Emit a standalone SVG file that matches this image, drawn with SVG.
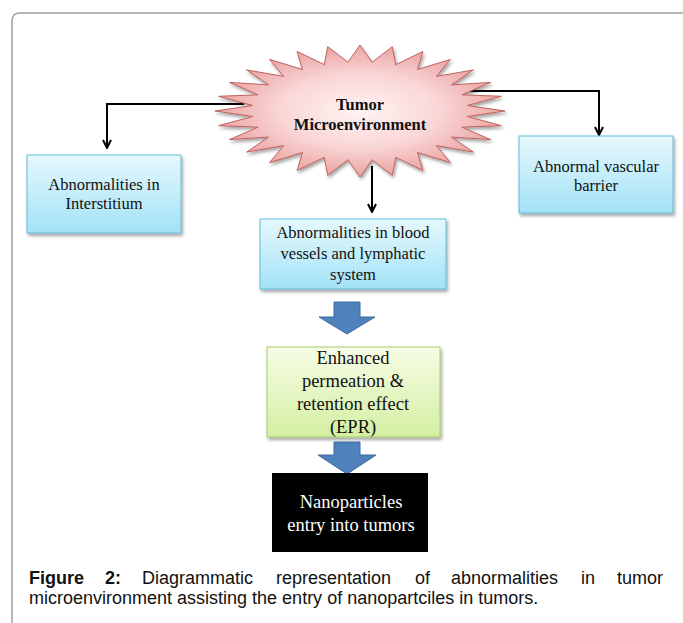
<svg xmlns="http://www.w3.org/2000/svg" width="683" height="623" viewBox="0 0 683 623">
<style>
.box{stroke-width:1}
.blue{fill:url(#gBlue);stroke:#62bcd9}
.green{fill:url(#gGreen);stroke:#a5cc6e}
.t{font-family:"Liberation Serif","Times New Roman",serif;font-size:16.5px;fill:#111;text-anchor:middle}
.tb{font-family:"Liberation Serif","Times New Roman",serif;font-size:16.5px;font-weight:bold;fill:#111;text-anchor:middle}
.tl{font-family:"Liberation Serif","Times New Roman",serif;font-size:18.5px;fill:#111;text-anchor:middle}
.tw{font-family:"Liberation Serif","Times New Roman",serif;font-size:18.5px;fill:#fff;text-anchor:middle}
.cap{font-family:"Liberation Sans",Arial,sans-serif;font-size:18px;fill:#111}
.conn{fill:none;stroke:#000;stroke-width:2}
.barrow{fill:#4f81bd;stroke:#3d6a9e;stroke-width:1}
</style>
<defs>
<linearGradient id="gBlue" x1="0" y1="0" x2="0" y2="1">
<stop offset="0" stop-color="#e6f8fd"/>
<stop offset="1" stop-color="#a2e2f6"/>
</linearGradient>
<linearGradient id="gGreen" x1="0" y1="0" x2="0" y2="1">
<stop offset="0" stop-color="#f7fce6"/>
<stop offset="1" stop-color="#d3efa2"/>
</linearGradient>
<radialGradient id="gStar" cx="0.5" cy="0.5" r="0.5">
<stop offset="0" stop-color="#fff3f3"/>
<stop offset="0.55" stop-color="#fad6d6"/>
<stop offset="1" stop-color="#eba3a3"/>
</radialGradient>
<filter id="sh" x="-10%" y="-10%" width="130%" height="140%">
<feDropShadow dx="1.5" dy="2.5" stdDeviation="1.5" flood-color="#000" flood-opacity="0.35"/>
</filter>
<marker id="arr" viewBox="0 0 10 10" refX="9" refY="5" markerWidth="10" markerHeight="10" orient="auto" markerUnits="userSpaceOnUse">
<path d="M1,1 L9,5 L1,9" fill="none" stroke="#000" stroke-width="2"/>
</marker>
</defs>
<rect width="683" height="623" fill="#fff"/>
<path d="M12,623 V21 Q12,13 20,13 H683" fill="none" stroke="#a0a0a0" stroke-width="1.5"/>

<g id="connectors">
<path class="conn" d="M244,104 H107 V148" marker-end="url(#arr)"/>
<path class="conn" d="M470,91 H599 V135" marker-end="url(#arr)"/>
<path class="conn" d="M372,166 V212" marker-end="url(#arr)"/>
<polygon class="barrow" points="334,302 360,302 360,317 375,317 347,334 319,317 334,317"/>
<polygon class="barrow" points="334,442 360,442 360,455 376,455 347,474 318,455 334,455"/>
</g>

<g id="tumor">
<polygon filter="url(#sh)" fill="url(#gStar)" stroke="#c0605c" stroke-width="1" points="505,111 467.3,105.5 501.4,96.3 461.9,94.8 490.6,82.4 451.4,84.9 473.4,69.9 436.4,76.4 450.4,59.4 417.5,69.5 422.9,51.5 395.7,64.7 392.3,46.7 372.1,62.3 360,45 347.9,62.3 327.7,46.7 324.3,64.7 297.1,51.5 302.5,69.5 269.6,59.4 283.6,76.4 246.6,69.9 268.6,84.9 229.4,82.4 258.1,94.8 218.6,96.3 252.7,105.5 215,111 252.7,116.5 218.6,125.7 258.1,127.2 229.4,139.6 268.6,137.1 246.6,152.1 283.6,145.6 269.6,162.6 302.5,152.5 297.1,170.5 324.3,157.3 327.7,175.3 347.9,159.7 360,177 372.1,159.7 392.3,175.3 395.7,157.3 422.9,170.5 417.5,152.5 450.4,162.6 436.4,145.6 473.4,152.1 451.4,137.1 490.6,139.6 461.9,127.2 501.4,125.7 467.3,116.5"/>
<text class="tb" x="360" y="110">Tumor</text>
<text class="tb" x="360" y="130">Microenvironment</text>
</g>

<g id="interstitium">
<rect class="box blue" filter="url(#sh)" x="27" y="155" width="154" height="78"/>
<text class="t" x="104" y="190">Abnormalities in</text>
<text class="t" x="104" y="209">Interstitium</text>
</g>

<g id="vascular">
<rect class="box blue" filter="url(#sh)" x="519" y="136" width="154" height="77"/>
<text class="t" x="596" y="172">Abnormal vascular</text>
<text class="t" x="596" y="191">barrier</text>
</g>

<g id="blood">
<rect class="box blue" filter="url(#sh)" x="260" y="219" width="186" height="70"/>
<text class="t" x="353" y="238">Abnormalities in blood</text>
<text class="t" x="353" y="259">vessels and lymphatic</text>
<text class="t" x="353" y="280">system</text>
</g>

<g id="epr">
<rect class="box green" filter="url(#sh)" x="267" y="347" width="173" height="90"/>
<text class="tl" x="353" y="364">Enhanced</text>
<text class="tl" x="353" y="387">permeation &amp;</text>
<text class="tl" x="353" y="410">retention effect</text>
<text class="tl" x="353" y="433">(EPR)</text>
</g>

<g id="nanoparticles">
<rect x="272" y="473" width="156" height="79" fill="#000"/>
<text class="tw" x="351" y="508">Nanoparticles</text>
<text class="tw" x="351" y="531">entry into tumors</text>
</g>

<g id="caption">
<text class="cap" x="29" y="584" font-weight="bold">Figure</text>
<text class="cap" x="105" y="584" font-weight="bold">2:</text>
<text class="cap" x="142" y="584">Diagrammatic</text>
<text class="cap" x="276" y="584">representation</text>
<text class="cap" x="415" y="584">of</text>
<text class="cap" x="451" y="584">abnormalities</text>
<text class="cap" x="581" y="584">in</text>
<text class="cap" x="617" y="584">tumor</text>
<text class="cap" x="29" y="604">microenvironment assisting the entry of nanopartciles in tumors.</text>
</g>
</svg>
